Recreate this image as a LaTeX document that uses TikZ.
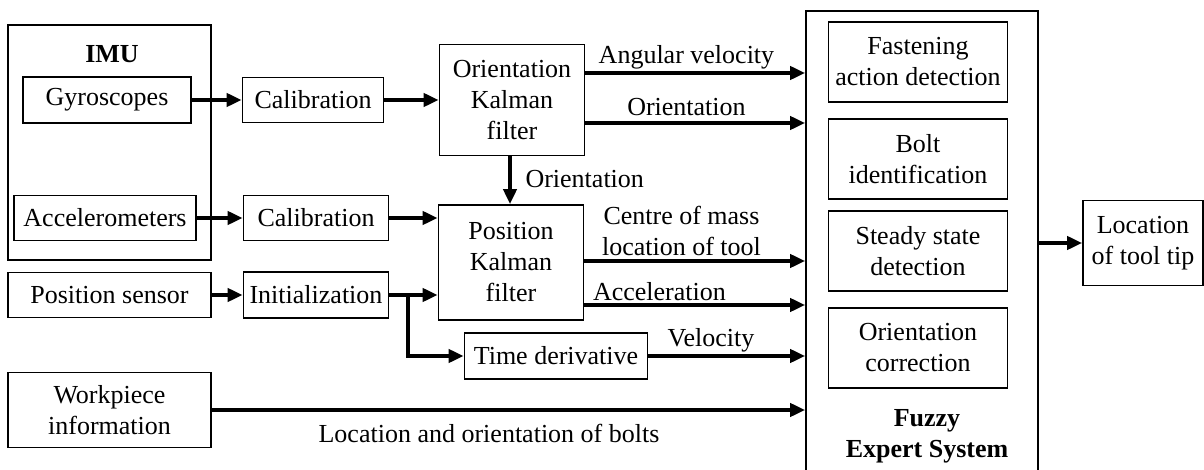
\documentclass[tikz,border=0pt]{standalone}
\usepackage{fontspec}
\setmainfont{Liberation Serif}
\usetikzlibrary{arrows.meta}

\begin{document}
\begin{tikzpicture}[x=1pt,y=-1pt,
      font=\fontsize{26}{31}\selectfont,
      block/.style={draw, line width=1.6pt, align=center, inner sep=0pt},
      flow/.style={line width=4pt, -{Triangle[length=15pt,width=13pt]}}]
      \useasboundingbox (0,0) rectangle (1204,470);
      % sensors
      \path (109.5,142.5) node[block, minimum width=203, minimum height=235] (imu) {};
      \path (112,54) node[font=\fontsize{26}{31}\selectfont\bfseries] (imulbl) {IMU};
      \path (107,100) node[block, minimum width=168, minimum height=46] (gyro) {Gyroscopes};
      \path (105,218) node[block, minimum width=182, minimum height=45] (acc) {Accelerometers};
      \path (109.5,295) node[block, minimum width=203, minimum height=45] (pos) {Position sensor};
      \path (109.5,410) node[block, minimum width=203, minimum height=75] (work) {Workpiece\\information};
      % preprocessing
      \path (313,100) node[block, minimum width=141, minimum height=45] (cal1) {Calibration};
      \path (316,218) node[block, minimum width=145, minimum height=45] (cal2) {Calibration};
      \path (316,295) node[block, minimum width=145, minimum height=46] (init) {Initialization};
      % filters
      \path (512,100) node[block, minimum width=145, minimum height=111] (okf) {Orientation\\Kalman\\filter};
      \path (511,262.5) node[block, minimum width=145, minimum height=115] (pkf) {Position\\Kalman\\filter};
      \path (556,356) node[block, minimum width=183, minimum height=46] (tder) {Time derivative};
      % fuzzy expert system
      \path (922,250) node[block, minimum width=232, minimum height=478] (fes) {};
      \path (918,62) node[block, minimum width=179, minimum height=80] (fast) {Fastening\\action detection};
      \path (918,159) node[block, minimum width=179, minimum height=80] (bolt) {Bolt\\identification};
      \path (918,251) node[block, minimum width=179, minimum height=80] (steady) {Steady state\\detection};
      \path (918,348) node[block, minimum width=179, minimum height=80] (corr) {Orientation\\correction};
      \path (927,436) node[align=center, font=\fontsize{26}{31}\selectfont\bfseries] (feslbl) {Fuzzy\\Expert System};
      \path (1143,243) node[block, minimum width=120, minimum height=85] (tip) {Location\\of tool tip};

      \draw[flow] (gyro.east |- cal1) -- (cal1.west);
      \draw[flow] (acc.east) -- (acc -| cal2.west);
      \draw[flow] (pos.east) -- (init.west);
      \draw[flow] (cal1.east) -- (okf.west |- cal1);
      \draw[flow] (cal2.east) -- (pkf.west |- cal2);
      \draw[flow] (init.east) -- (pkf.west |- init);
      \coordinate (split) at (408,293);
      \draw[flow] (split) |- (tder.west);
      \draw[flow] (okf.south -| 510,0) -- (pkf.north -| 510,0);
      \path (522,179) node[anchor=west] (olbl) {Orientation};

      \draw[flow] ([yshift=27]okf.east) -- ([yshift=27]okf.east -| fes.west)
            node[pos=0.46, above=-1pt] (avlbl) {Angular velocity};
      \draw[flow] ([yshift=-23]okf.east) -- ([yshift=-23]okf.east -| fes.west)
            node[pos=0.46, above=2pt] (orlbl) {Orientation};
      \draw[flow] ([yshift=1.5]pkf.east) -- ([yshift=1.5]pkf.east -| fes.west)
            node[pos=0.44, above=0pt, align=center] (cmlbl) {Centre of mass\\location of tool};
      \draw[flow] ([yshift=-42.5]pkf.east) -- ([yshift=-42.5]pkf.east -| fes.west)
            node[pos=0.34, above=-1pt] (acclbl) {Acceleration};
      \draw[flow] (tder.east) -- (tder -| fes.west)
            node[pos=0.4, above=-1pt] (vlbl) {Velocity};
      \draw[flow] (work.east) -- (work -| fes.west);
      \path (489,433) node (boltlbl) {Location and orientation of bolts};
      \draw[flow] (fes.east |- tip) -- (tip.west);
\end{tikzpicture}
\end{document}
